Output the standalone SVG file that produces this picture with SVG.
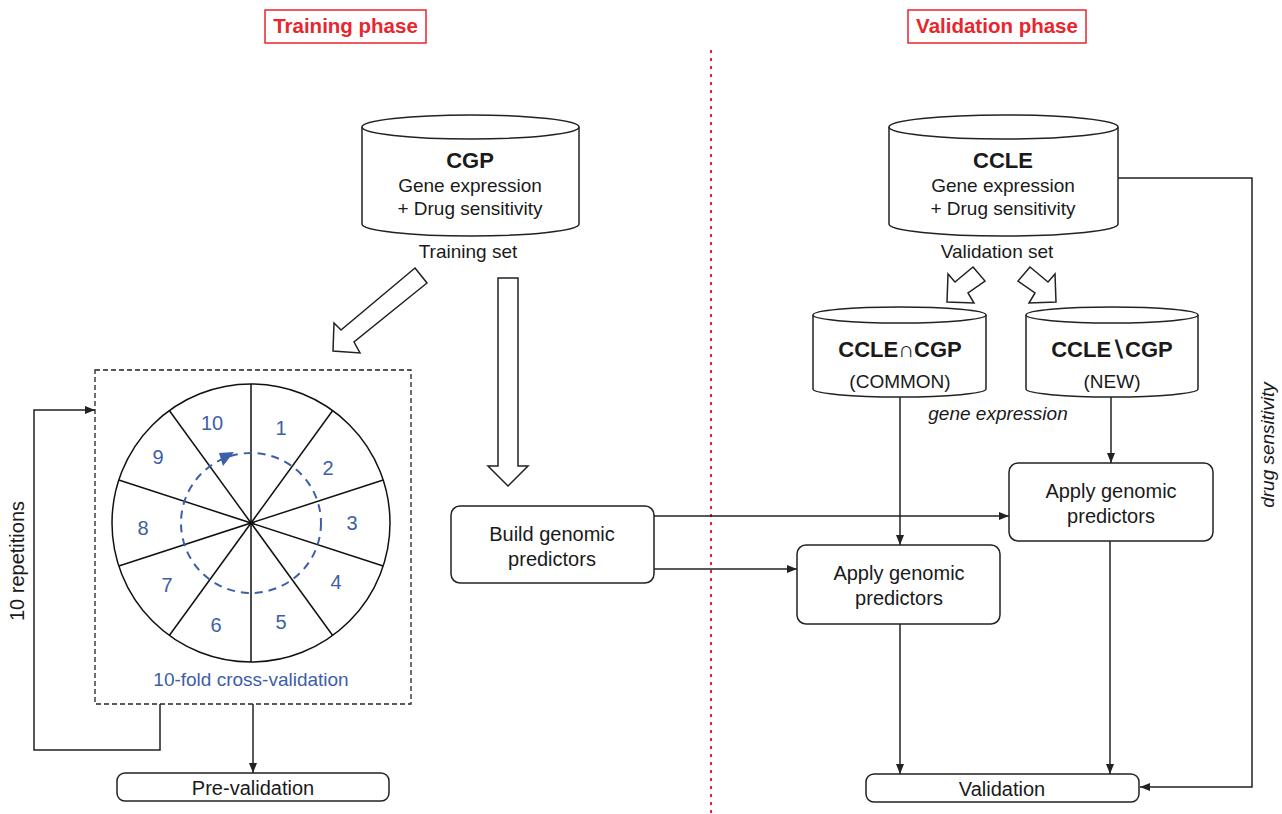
<svg xmlns="http://www.w3.org/2000/svg" width="1282" height="814" viewBox="0 0 1282 814">
<style>
text{font-family:"Liberation Sans",Arial,sans-serif;fill:#1a1a1a}
.ph{font-size:20.5px;font-weight:bold;fill:#e8262e;text-anchor:middle}
.phb{fill:#fff;stroke:#e8262e;stroke-width:1.5}
.t{font-size:19px;text-anchor:middle}
.tb{font-size:22px;font-weight:bold;text-anchor:middle}
.it{font-size:19px;font-style:italic;text-anchor:middle}
.bx{fill:#fff;stroke:#222;stroke-width:1.5}
.ln{fill:none;stroke:#222;stroke-width:1.5}
.blk{fill:#fff;stroke:#222;stroke-width:1.5;stroke-linejoin:miter}
.fold{font-size:20px;fill:#3d5ea8;text-anchor:middle}
.spoke{stroke:#111;stroke-width:1.5}
</style>
<defs>
<marker id="ah" viewBox="0 0 10 10" refX="10" refY="5" markerWidth="10" markerHeight="10" markerUnits="userSpaceOnUse" orient="auto">
<path d="M0,1 L10,5 L0,9 Z" fill="#222"/>
</marker>
</defs>
<rect width="1282" height="814" fill="#fff"/>

<g id="phase-training">
<rect class="phb" x="265" y="10" width="161" height="33"/>
<text class="ph" x="345.5" y="33">Training phase</text>
</g>
<g id="phase-validation">
<rect class="phb" x="908" y="10" width="178" height="33"/>
<text class="ph" x="997" y="33">Validation phase</text>
</g>
<line id="divider" x1="711" y1="50" x2="711" y2="814" stroke="#e8262e" stroke-width="2" stroke-dasharray="3 5"/>

<g id="cgp">
<path class="bx" d="M362,127 L362,224 A108.5,12 0 0 0 579,224 L579,127"/>
<ellipse class="bx" cx="470.5" cy="127" rx="108.5" ry="12"/>
<text class="tb" x="470" y="168">CGP</text>
<text class="t" x="470" y="192">Gene expression</text>
<text class="t" x="470" y="215">+ Drug sensitivity</text>
<text class="t" x="468" y="258">Training set</text>
</g>

<g id="ccle">
<path class="bx" d="M889,127 L889,224 A114.5,12 0 0 0 1118,224 L1118,127"/>
<ellipse class="bx" cx="1003.5" cy="127" rx="114.5" ry="12"/>
<text class="tb" x="1003" y="168">CCLE</text>
<text class="t" x="1003" y="192">Gene expression</text>
<text class="t" x="1003" y="215">+ Drug sensitivity</text>
<text class="t" x="997" y="258">Validation set</text>
</g>

<g id="common">
<path class="bx" d="M813,315 L813,389 A86.5,8 0 0 0 986,389 L986,315"/>
<ellipse class="bx" cx="899.5" cy="315" rx="86.5" ry="8"/>
<text class="tb" x="900" y="357">CCLE∩CGP</text>
<text class="t" x="900" y="388">(COMMON)</text>
</g>

<g id="new">
<path class="bx" d="M1026,315 L1026,389 A86,8 0 0 0 1198,389 L1198,315"/>
<ellipse class="bx" cx="1112" cy="315" rx="86" ry="8"/>
<text class="tb" x="1112" y="357">CCLE∖CGP</text>
<text class="t" x="1112" y="388">(NEW)</text>
</g>

<g id="block-arrows">
<polygon class="blk" points="415,268 427,283 354,342 360,353 333,351 334,323 341,330"/>
<polygon class="blk" points="498,278 518,278 518,466 528,466 508,486 488,466 498,466"/>
<polygon class="blk" points="973,267 985,281 968,293 974,303 947,302 948,274 955,282"/>
<polygon class="blk" points="1030,267 1018,281 1035,293 1029,303 1056,302 1055,274 1048,282"/>
</g>

<g id="cv">
<rect x="95" y="370" width="316" height="334" fill="none" stroke="#222" stroke-width="1.3" stroke-dasharray="5 3"/>
<circle cx="251" cy="523" r="139" fill="#fff" stroke="#111" stroke-width="1.5"/>
<g class="spoke">
<line x1="251" y1="384" x2="251" y2="662"/>
<line x1="332.7" y1="410.5" x2="169.3" y2="635.5"/>
<line x1="383.2" y1="480" x2="118.8" y2="566"/>
<line x1="383.2" y1="566" x2="118.8" y2="480"/>
<line x1="332.7" y1="635.5" x2="169.3" y2="410.5"/>
</g>
<circle cx="251" cy="523" r="2" fill="#111"/>
<circle cx="251" cy="523" r="70" fill="none" stroke="#3d5ea8" stroke-width="2" stroke-dasharray="8 6"/>
<polygon points="234,452 219,453 223,466" fill="#3d5ea8"/>
<text class="fold" x="281" y="435">1</text>
<text class="fold" x="328" y="475">2</text>
<text class="fold" x="352" y="530">3</text>
<text class="fold" x="336" y="589">4</text>
<text class="fold" x="281" y="629">5</text>
<text class="fold" x="216" y="632">6</text>
<text class="fold" x="167" y="592">7</text>
<text class="fold" x="143" y="535">8</text>
<text class="fold" x="158" y="464">9</text>
<text class="fold" x="212" y="430">10</text>
<text class="fold" x="251" y="686" style="font-size:19px">10-fold cross-validation</text>
</g>

<g id="build">
<rect class="bx" x="451" y="506" width="203" height="77" rx="9"/>
<text class="t" x="552" y="541" style="font-size:20px">Build genomic</text>
<text class="t" x="552" y="566" style="font-size:20px">predictors</text>
</g>
<g id="apply-new">
<rect class="bx" x="1009" y="463" width="204" height="78" rx="9"/>
<text class="t" x="1111" y="498" style="font-size:20px">Apply genomic</text>
<text class="t" x="1111" y="523" style="font-size:20px">predictors</text>
</g>
<g id="apply-common">
<rect class="bx" x="797" y="545" width="203" height="79" rx="9"/>
<text class="t" x="899" y="580" style="font-size:20px">Apply genomic</text>
<text class="t" x="899" y="605" style="font-size:20px">predictors</text>
</g>
<g id="prevalidation">
<rect class="bx" x="117" y="773" width="272" height="28" rx="8"/>
<text class="t" x="253" y="795" style="font-size:20px">Pre-validation</text>
</g>
<g id="validation">
<rect class="bx" x="866" y="774" width="273" height="28" rx="8"/>
<text class="t" x="1002" y="796" style="font-size:20px">Validation</text>
</g>

<g id="connectors">
<path class="ln" d="M160,704 L160,750 L34,750 L34,410 L95,410" marker-end="url(#ah)"/>
<path class="ln" d="M253,704 L253,773" marker-end="url(#ah)"/>
<path class="ln" d="M654,516 L1009,516" marker-end="url(#ah)"/>
<path class="ln" d="M654,569 L797,569" marker-end="url(#ah)"/>
<path class="ln" d="M900,397 L900,545" marker-end="url(#ah)"/>
<path class="ln" d="M1111,397 L1111,463" marker-end="url(#ah)"/>
<path class="ln" d="M900,624 L900,774" marker-end="url(#ah)"/>
<path class="ln" d="M1110,541 L1110,774" marker-end="url(#ah)"/>
<path class="ln" d="M1118,178 L1252,178 L1252,787 L1140,787" marker-end="url(#ah)"/>
<text class="it" x="998" y="420">gene expression</text>
<text class="it" transform="translate(1274,445) rotate(-90)">drug sensitivity</text>
<text class="t" transform="translate(24,561) rotate(-90)" style="font-size:20px">10 repetitions</text>
</g>
</svg>
